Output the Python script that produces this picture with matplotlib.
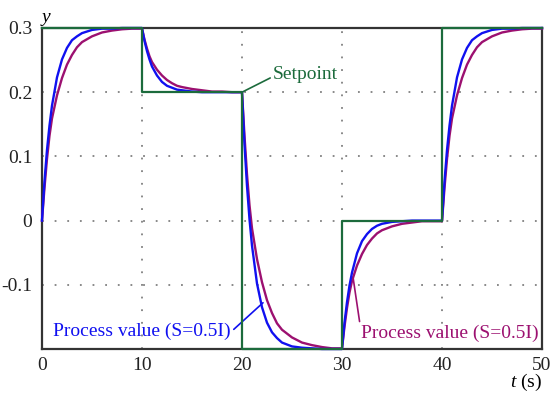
import matplotlib
matplotlib.use("Agg")
import matplotlib.pyplot as plt

plt.rcParams['font.family'] = ['Liberation Serif', 'DejaVu Serif']
plt.rcParams['mathtext.fontset'] = 'custom'
plt.rcParams['mathtext.rm'] = 'Liberation Serif'
plt.rcParams['mathtext.it'] = 'Liberation Serif:italic'

# setpoint steps
sp_t = [0, 10, 20, 30, 40, 50]
sp_y = [0.3, 0.2, -0.2, 0.0, 0.3, 0.3]

# process values
pv_t = [0, 0.25, 0.5, 0.75, 1, 1.5, 2, 2.5, 3, 3.5, 4, 5, 6, 7, 8, 9,
        10, 10.25, 10.5, 10.75, 11, 11.5, 12, 12.5, 13, 13.5, 14, 15, 16, 17, 18, 19,
        20, 20.25, 20.5, 20.75, 21, 21.5, 22, 22.5, 23, 23.5, 24, 25, 26, 27, 28, 29,
        30, 30.25, 30.5, 30.75, 31, 31.5, 32, 32.5, 33, 33.5, 34, 35, 36, 37, 38, 39,
        40, 40.25, 40.5, 40.75, 41, 41.5, 42, 42.5, 43, 43.5, 44, 45, 46, 47, 48, 49,
        50]
pv_blue = [0.000, 0.061, 0.110, 0.148, 0.179, 0.223, 0.251, 0.269, 0.281, 0.287, 0.292, 0.297, 0.299, 0.299, 0.300, 0.300,
           0.300, 0.280, 0.264, 0.251, 0.240, 0.226, 0.216, 0.210, 0.207, 0.204, 0.203, 0.201, 0.200, 0.200, 0.200, 0.200,
           0.200, 0.119, 0.054, 0.002, -0.039, -0.098, -0.135, -0.159, -0.174, -0.183, -0.190, -0.196, -0.198, -0.199, -0.200, -0.200,
           -0.200, -0.159, -0.127, -0.101, -0.081, -0.051, -0.032, -0.021, -0.013, -0.008, -0.005, -0.002, -0.001, 0.000, 0.000, 0.000,
           0.000, 0.061, 0.110, 0.148, 0.179, 0.223, 0.251, 0.269, 0.281, 0.287, 0.292, 0.297, 0.299, 0.299, 0.300, 0.300,
           0.300]
pv_purple = [0.000, 0.051, 0.096, 0.132, 0.159, 0.195, 0.222, 0.243, 0.258, 0.270, 0.278, 0.287, 0.293, 0.296, 0.298, 0.299,
             0.299, 0.282, 0.268, 0.256, 0.247, 0.235, 0.226, 0.219, 0.214, 0.210, 0.208, 0.205, 0.203, 0.201, 0.201, 0.200,
             0.200, 0.132, 0.072, 0.024, -0.012, -0.060, -0.096, -0.124, -0.144, -0.160, -0.170, -0.182, -0.190, -0.194, -0.197, -0.199,
             -0.199, -0.165, -0.136, -0.112, -0.094, -0.070, -0.052, -0.038, -0.028, -0.020, -0.015, -0.009, -0.005, -0.003, -0.001, -0.001,
             -0.001, 0.051, 0.096, 0.132, 0.159, 0.195, 0.222, 0.243, 0.258, 0.270, 0.278, 0.287, 0.293, 0.296, 0.298, 0.299,
             0.299]

x_ticks = [0, 10, 20, 30, 40, 50]
y_ticks = [0.3, 0.2, 0.1, 0.0, -0.1]
y_tick_labels = ['0.3', '0.2', '0.1', '0', '-0.1']

blue = '#1010f0'
purple = '#9c1070'
green = '#1c6b3c'

fig = plt.figure(figsize=(5.51, 3.96), dpi=100)
ax = fig.add_axes([0.0762, 0.1187, 0.9075, 0.8106])

ax.plot(pv_t, pv_purple, color=purple, lw=1.7, clip_on=False, zorder=3)
ax.plot(pv_t, pv_blue, color=blue, lw=1.7, clip_on=False, zorder=4)
ax.plot(sp_t, sp_y, drawstyle='steps-post', color=green, lw=1.6, clip_on=False, zorder=5)

ax.set_xlim(0, 50)
ax.set_ylim(-0.2, 0.3)
ax.set_xticks(x_ticks)
ax.set_yticks(y_ticks)
ax.set_yticklabels(y_tick_labels)
ax.tick_params(axis='y', length=0, labelsize=14, pad=7, colors='#222222')
ax.tick_params(axis='x', length=0, labelsize=14, pad=6, colors='#222222')
ax.grid(True, color='#808080', linestyle=(0, (1, 6)), lw=1.3)
for s in ax.spines.values():
    s.set_color('#333333')
    s.set_linewidth(1.6)

ax.text(0.0, 0.303, 'y', style='italic', fontsize=14, ha='left', va='bottom')
ax.text(50, -0.252, '$t$ (s)', fontsize=14, ha='right', va='center', clip_on=False)

ax.annotate('Setpoint', xy=(20, 0.2), xytext=(23.1, 0.227), color=green, fontsize=14,
            ha='left', va='center',
            arrowprops=dict(arrowstyle='-', color=green, lw=1.2, shrinkA=0, shrinkB=0,
                            relpos=(0, 0.4)))
ax.annotate('Process value (S=0.5I)', xy=(22.1, -0.128), xytext=(18.9, -0.172), color=blue,
            fontsize=14, ha='right', va='center',
            arrowprops=dict(arrowstyle='-', color=blue, lw=1.2, shrinkA=0, shrinkB=0,
                            relpos=(1, 0.45)))
ax.annotate('Process value (S=0.5I)', xy=(31.1, -0.088), xytext=(31.9, -0.175), color=purple,
            fontsize=14, ha='left', va='center',
            arrowprops=dict(arrowstyle='-', color=purple, lw=1.2, shrinkA=0, shrinkB=0,
                            relpos=(0, 0.6)))

fig.savefig('out.png', dpi=100)
